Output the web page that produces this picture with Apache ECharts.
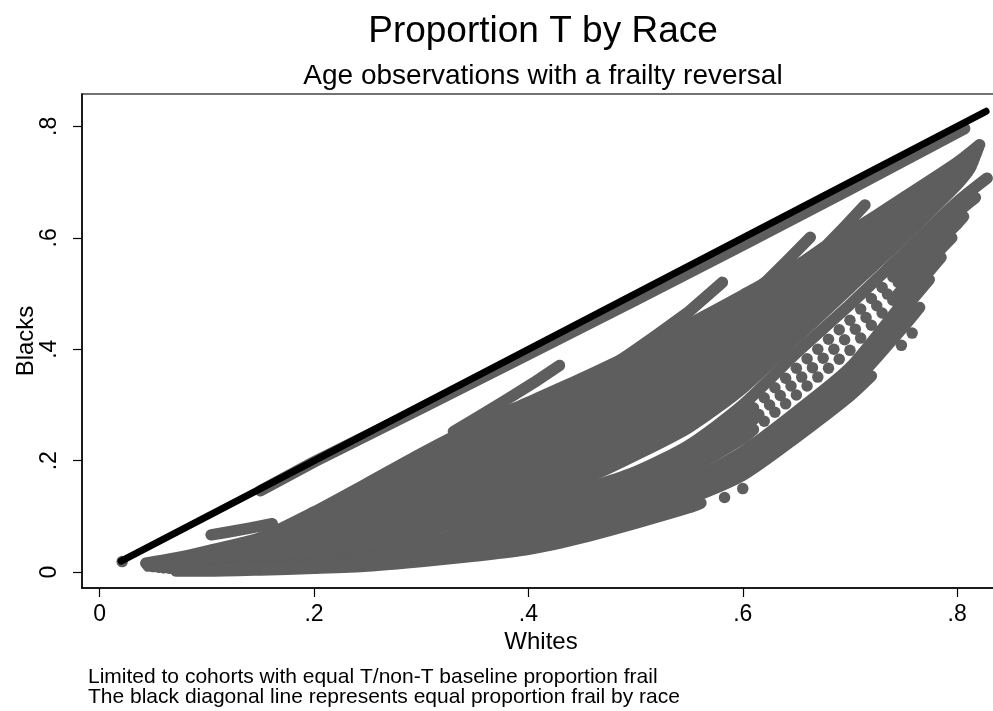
<!DOCTYPE html>
<html>
<head>
<meta charset="utf-8">
<script src="https://cdn.jsdelivr.net/npm/echarts@6/dist/echarts.min.js"></script>
<style>
  html, body { margin: 0; padding: 0; background: #fff; }
  #chart { width: 993px; height: 711px; }
</style>
</head>
<body>
<div id="chart"></div>
<script>
// Axis ticks and their labels (Stata style: no leading zero)
const xTicks = [0, 0.2, 0.4, 0.6, 0.8];
const xTickLabels = ['0', '.2', '.4', '.6', '.8'];
const yTicks = [0, 0.2, 0.4, 0.6, 0.8];
const yTickLabels = ['0', '.2', '.4', '.6', '.8'];

// Equal proportion frail by race (Whites = Blacks)
const equalityLine = [[0.02, 0.02], [0.827, 0.827]];

// Cohort tracks in the upper part of the cloud: [whites, blacks]
const upperTracks = [
  [[0.043,0.016],[0.07,0.025],[0.1,0.038],[0.15,0.062],[0.2,0.108],[0.25,0.16],[0.3,0.213],[0.35,0.262],[0.4,0.305],[0.45,0.348],[0.5,0.394],[0.55,0.445],[0.6,0.497],[0.65,0.55],[0.7,0.61],[0.75,0.672],[0.8,0.735],[0.821,0.767]],
  [[0.045,0.011],[0.1,0.035],[0.15,0.057],[0.2,0.1],[0.25,0.149],[0.3,0.199],[0.35,0.246],[0.4,0.288],[0.45,0.33],[0.5,0.376],[0.55,0.427],[0.6,0.48],[0.65,0.537],[0.7,0.6],[0.75,0.665],[0.8,0.731],[0.82,0.762]],
  [[0.05,0.01],[0.1,0.032],[0.15,0.052],[0.2,0.093],[0.25,0.138],[0.3,0.185],[0.35,0.23],[0.4,0.271],[0.45,0.312],[0.5,0.357],[0.55,0.408],[0.6,0.464],[0.65,0.524],[0.7,0.59],[0.75,0.658],[0.8,0.727],[0.819,0.757]],
  [[0.055,0.009],[0.1,0.029],[0.15,0.048],[0.2,0.085],[0.25,0.126],[0.3,0.171],[0.35,0.214],[0.4,0.254],[0.45,0.294],[0.5,0.339],[0.55,0.39],[0.6,0.447],[0.65,0.511],[0.7,0.58],[0.75,0.65],[0.8,0.723],[0.818,0.752]],
  [[0.06,0.008],[0.1,0.026],[0.15,0.043],[0.2,0.077],[0.25,0.115],[0.3,0.157],[0.35,0.198],[0.4,0.237],[0.45,0.276],[0.5,0.32],[0.55,0.371],[0.6,0.43],[0.65,0.498],[0.7,0.57],[0.75,0.643],[0.8,0.719],[0.817,0.747]],
  [[0.065,0.007],[0.1,0.023],[0.15,0.038],[0.2,0.07],[0.25,0.104],[0.3,0.143],[0.35,0.182],[0.4,0.22],[0.45,0.258],[0.5,0.302],[0.55,0.353],[0.6,0.414],[0.65,0.485],[0.7,0.56],[0.75,0.636],[0.8,0.715],[0.816,0.742]],
  [[0.07,0.006],[0.1,0.02],[0.15,0.033],[0.2,0.062],[0.25,0.092],[0.3,0.128],[0.35,0.166],[0.4,0.202],[0.45,0.239],[0.5,0.284],[0.55,0.334],[0.6,0.397],[0.65,0.472],[0.7,0.55],[0.75,0.629],[0.8,0.711],[0.815,0.737]],
  [[0.075,0.006],[0.1,0.017],[0.15,0.028],[0.2,0.054],[0.25,0.08],[0.3,0.114],[0.35,0.149],[0.4,0.184],[0.45,0.221],[0.5,0.265],[0.55,0.316],[0.6,0.38],[0.65,0.459],[0.7,0.54],[0.75,0.622],[0.8,0.707],[0.814,0.733]],
  [[0.08,0.006],[0.1,0.014],[0.15,0.024],[0.2,0.046],[0.25,0.068],[0.3,0.099],[0.35,0.132],[0.4,0.166],[0.45,0.202],[0.5,0.247],[0.55,0.297],[0.6,0.363],[0.65,0.446],[0.7,0.53],[0.75,0.614],[0.8,0.703],[0.813,0.728]],
  [[0.085,0.006],[0.1,0.011],[0.15,0.019],[0.2,0.038],[0.25,0.057],[0.3,0.085],[0.35,0.115],[0.4,0.148],[0.45,0.184],[0.5,0.228],[0.55,0.279],[0.6,0.347],[0.65,0.433],[0.7,0.52],[0.75,0.607],[0.8,0.699],[0.812,0.724]],
  [[0.09,0.006],[0.1,0.008],[0.15,0.014],[0.2,0.03],[0.25,0.045],[0.3,0.07],[0.35,0.098],[0.4,0.13],[0.45,0.165],[0.5,0.21],[0.55,0.26],[0.6,0.33],[0.65,0.42],[0.7,0.51],[0.75,0.6],[0.8,0.695],[0.81,0.718]]
];

// Cohort tracks in the lower part of the cloud (dense stretches)
const lowerTracks = [
  [[0.1,0.006],[0.15,0.01],[0.2,0.018],[0.25,0.03],[0.3,0.05],[0.35,0.078],[0.4,0.114],[0.45,0.147],[0.5,0.18],[0.55,0.228],[0.6,0.3],[0.65,0.393],[0.7,0.48],[0.75,0.572],[0.8,0.664],[0.828,0.707]],
  [[0.1,0.006],[0.15,0.01],[0.2,0.017],[0.25,0.028],[0.3,0.046],[0.35,0.072],[0.4,0.105],[0.45,0.137],[0.5,0.167],[0.55,0.213],[0.6,0.277],[0.61,0.295]],
  [[0.74,0.53],[0.75,0.55],[0.8,0.645],[0.817,0.672]],
  [[0.1,0.005],[0.15,0.009],[0.2,0.016],[0.25,0.026],[0.3,0.043],[0.35,0.066],[0.4,0.096],[0.45,0.126],[0.5,0.155],[0.55,0.199],[0.6,0.258],[0.615,0.283]],
  [[0.745,0.52],[0.75,0.53],[0.8,0.625],[0.806,0.638]],
  [[0.1,0.005],[0.15,0.009],[0.2,0.015],[0.25,0.024],[0.3,0.039],[0.35,0.06],[0.4,0.087],[0.45,0.115],[0.5,0.143],[0.55,0.185],[0.6,0.24],[0.61,0.256]],
  [[0.74,0.488],[0.75,0.51],[0.795,0.6]],
  [[0.1,0.005],[0.15,0.008],[0.2,0.014],[0.25,0.022],[0.3,0.035],[0.35,0.054],[0.4,0.077],[0.45,0.104],[0.5,0.127],[0.55,0.164],[0.6,0.216],[0.65,0.288],[0.7,0.367],[0.75,0.485],[0.785,0.565]],
  [[0.1,0.004],[0.15,0.007],[0.2,0.012],[0.25,0.02],[0.3,0.031],[0.35,0.048],[0.4,0.068],[0.45,0.094],[0.5,0.118],[0.55,0.153],[0.6,0.202],[0.65,0.272],[0.7,0.35],[0.75,0.47],[0.774,0.525]],
  [[0.1,0.004],[0.15,0.007],[0.2,0.011],[0.25,0.018],[0.3,0.028],[0.35,0.042],[0.4,0.059],[0.45,0.083],[0.5,0.109],[0.55,0.142],[0.6,0.188],[0.65,0.257],[0.7,0.333],[0.75,0.44],[0.765,0.475]],
  [[0.09,0.004],[0.15,0.006],[0.2,0.01],[0.25,0.016],[0.3,0.024],[0.35,0.036],[0.4,0.05],[0.45,0.072],[0.5,0.1],[0.55,0.132],[0.6,0.174],[0.65,0.242],[0.7,0.316],[0.72,0.352]],
  [[0.071,0.002],[0.1,0.002],[0.15,0.004],[0.2,0.007],[0.25,0.011],[0.3,0.019],[0.35,0.029],[0.4,0.041],[0.45,0.062],[0.5,0.088],[0.55,0.116],[0.561,0.124]]
];

// Middle ages of three lower cohorts, where the observations spread apart
const latticeDots = [
  [0.62,0.313],[0.63,0.331],[0.64,0.348],[0.65,0.366],[0.66,0.383],[0.67,0.4],[0.68,0.418],[0.69,0.435],[0.7,0.452],[0.71,0.472],[0.72,0.491],[0.73,0.511],
  [0.625,0.3],[0.635,0.317],[0.645,0.334],[0.655,0.35],[0.665,0.367],[0.675,0.384],[0.685,0.4],[0.695,0.417],[0.705,0.436],[0.715,0.457],[0.725,0.478],[0.735,0.499],
  [0.62,0.271],[0.63,0.287],[0.64,0.302],[0.65,0.318],[0.66,0.334],[0.67,0.35],[0.68,0.366],[0.69,0.382],[0.7,0.398],[0.71,0.42],[0.72,0.443],[0.73,0.465]
];

// Short tracks that break away above the main cloud
const breakawayTracks = [
  [[0.104,0.067],[0.12,0.072],[0.14,0.079],[0.161,0.087]],
  [[0.33,0.252],[0.355,0.281],[0.38,0.31],[0.405,0.34],[0.429,0.371]],
  [[0.47,0.36],[0.497,0.395],[0.52,0.426],[0.55,0.468],[0.581,0.52]],
  [[0.6,0.49],[0.622,0.522],[0.642,0.56],[0.663,0.601]],
  [[0.66,0.562],[0.678,0.586],[0.695,0.62],[0.714,0.659]]
];

// Track hugging the equality line from below
const nearEqualTrack = [[0.15,0.146],[0.2,0.198],[0.3,0.294],[0.4,0.391],[0.5,0.488],[0.6,0.587],[0.7,0.687],[0.807,0.796]];

// Isolated observations
const looseDots = [[0.021,0.019],[0.583,0.134],[0.6,0.15],[0.748,0.407],[0.758,0.429]];

const GRAY = '#5e5e5e';
const FONT = '"Liberation Sans", Arial, Helvetica, sans-serif';
const DOT = 11.5;

function track(points, smooth) {
  return {
    type: 'line',
    data: points,
    showSymbol: false,
    smooth: smooth,
    lineStyle: { color: GRAY, width: DOT, cap: 'round', join: 'round' },
    silent: true,
    z: 2
  };
}

function dots(points) {
  return {
    type: 'scatter',
    data: points,
    symbol: 'circle',
    symbolSize: DOT,
    itemStyle: { color: GRAY, opacity: 1 },
    silent: true,
    z: 2
  };
}

const series = [];
upperTracks.concat(lowerTracks).forEach(t => series.push(track(t, 0.25)));
breakawayTracks.concat([nearEqualTrack]).forEach(t => series.push(track(t, false)));
series.push(dots(latticeDots));
series.push(dots(looseDots));
series.push({
  type: 'line',
  data: equalityLine,
  showSymbol: false,
  lineStyle: { color: '#000', width: 7, cap: 'round' },
  silent: true,
  z: 5
});

const chart = echarts.init(document.getElementById('chart'), null, { renderer: 'canvas' });
chart.setOption({
  animation: false,
  backgroundColor: '#fff',
  title: [
    {
      text: 'Proportion T by Race',
      left: 543, top: 13, textAlign: 'center', padding: 0,
      textStyle: { fontFamily: FONT, fontSize: 37, fontWeight: 'normal', color: '#000' }
    },
    {
      text: 'Age observations with a frailty reversal',
      left: 543, top: 62, textAlign: 'center', padding: 0,
      textStyle: { fontFamily: FONT, fontSize: 28, fontWeight: 'normal', color: '#000' }
    },
    {
      text: 'Limited to cohorts with equal T/non-T baseline proportion frail\nThe black diagonal line represents equal proportion frail by race',
      left: 88, top: 667, padding: 0,
      textStyle: { fontFamily: FONT, fontSize: 21, lineHeight: 20, fontWeight: 'normal', color: '#000' }
    }
  ],
  grid: {
    left: 82, top: 94, width: 918, height: 494,
    outerBoundsMode: 'none',
    show: true, borderColor: '#444', borderWidth: 1.5, backgroundColor: '#fff'
  },
  xAxis: {
    type: 'value', min: -0.0165, max: 0.84,
    name: 'Whites', nameLocation: 'middle', nameGap: 42, nameMoveOverlap: false,
    nameTextStyle: { fontFamily: FONT, fontSize: 24, color: '#000' },
    axisLine: { show: true, onZero: false, lineStyle: { color: '#000', width: 1.5 } },
    axisTick: { show: true, length: 9, customValues: xTicks, lineStyle: { color: '#000', width: 1.2 } },
    axisLabel: {
      customValues: xTicks,
      formatter: v => xTickLabels[xTicks.findIndex(t => Math.abs(t - v) < 1e-9)],
      fontFamily: FONT, fontSize: 23, color: '#000', margin: 15
    },
    splitLine: { show: false }
  },
  yAxis: {
    type: 'value', min: -0.0284, max: 0.858,
    name: 'Blacks', nameLocation: 'middle', nameGap: 44, nameRotate: 90, nameMoveOverlap: false,
    nameTextStyle: { fontFamily: FONT, fontSize: 24, color: '#000' },
    axisLine: { show: true, onZero: false, lineStyle: { color: '#000', width: 1.5 } },
    axisTick: { show: true, length: 9, customValues: yTicks, lineStyle: { color: '#000', width: 1.2 } },
    axisLabel: {
      customValues: yTicks, rotate: 90,
      formatter: v => yTickLabels[yTicks.findIndex(t => Math.abs(t - v) < 1e-9)],
      fontFamily: FONT, fontSize: 23, color: '#000', margin: 21
    },
    splitLine: { show: false }
  },
  series: series
});
</script>
</body>
</html>
